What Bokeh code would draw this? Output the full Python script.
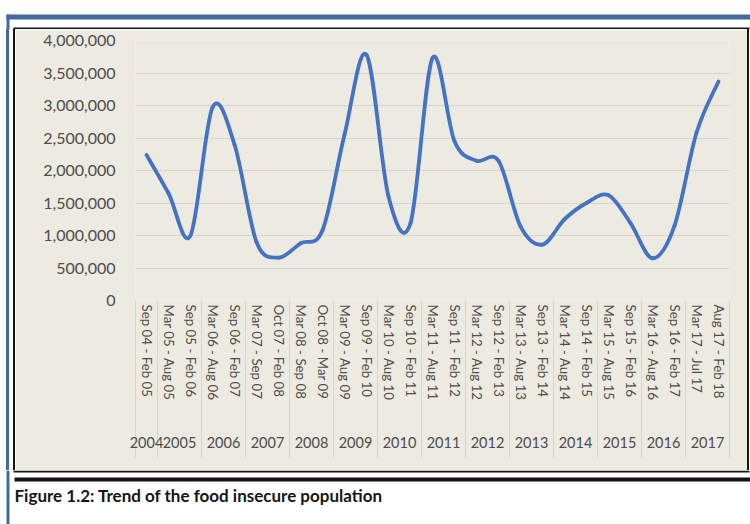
from bokeh.plotting import figure
from bokeh.layouts import column, row
from bokeh.models import (Range1d, NumeralTickFormatter, Label, ColumnDataSource,
                          FixedTicker, LinearAxis, Spacer)
from bokeh.embed import file_html
from bokeh.resources import INLINE

# ---- data ----
years = ["2004", "2005", "2005", "2006", "2006", "2007", "2007", "2008", "2008",
         "2009", "2009", "2010", "2010", "2011", "2011", "2012", "2012", "2013", "2013",
         "2014", "2014", "2015", "2015", "2016", "2016", "2017", "2017"]
periods = ["Sep 04 - Feb 05", "Mar 05 - Aug 05", "Sep 05 - Feb 06", "Mar 06 - Aug 06",
           "Sep 06 - Feb 07", "Mar 07 - Sep 07", "Oct 07 - Feb 08", "Mar 08 - Sep 08",
           "Oct 08 - Mar 09", "Mar 09 - Aug 09", "Sep 09 - Feb 10", "Mar 10 - Aug 10",
           "Sep 10 - Feb 11", "Mar 11 - Aug 11", "Sep 11 - Feb 12", "Mar 12 - Aug 12",
           "Sep 12 - Feb 13", "Mar 13 - Aug 13", "Sep 13 - Feb 14", "Mar 14 - Aug 14",
           "Sep 14 - Feb 15", "Mar 15 - Aug 15", "Sep 15 - Feb 16", "Mar 16 - Aug 16",
           "Sep 16 - Feb 17", "Mar 17 - Jul 17", "Aug 17 - Feb 18"]
food_insecure = [2240000, 1650000, 1000000, 2970000, 2400000, 900000, 660000, 880000,
                 1080000, 2550000, 3780000, 1600000, 1190000, 3730000, 2450000, 2150000,
                 2150000, 1140000, 860000, 1250000, 1500000, 1620000, 1190000, 650000,
                 1150000, 2580000, 3370000]
y_ticks = [0, 500000, 1000000, 1500000, 2000000, 2500000, 3000000, 3500000, 4000000]
caption = "Figure 1.2: Trend of the food insecure population"

FONT = "Lato"
GREY = "#4d4d4d"
BEIGE = "#ECEAE1"
BLUE_FRAME = "#44699C"
INK = "#151515"

n = len(food_insecure)
xs = [i + 0.5 for i in range(n)]            # category centres
year_names = []
year_centres = []
bounds = [0]
for i, yv in enumerate(years):
    if not year_names or year_names[-1] != yv:
        if year_names:
            bounds.append(i)
        year_names.append(yv)
        year_centres.append([])
    year_centres[-1].append(xs[i])
bounds.append(n)
year_centres = [sum(c) / len(c) for c in year_centres]

# ---------------- main chart ----------------
MW, MH = 732, 441
p = figure(width=MW, height=MH, x_range=Range1d(0, n), y_range=Range1d(0, 4000000),
           output_backend="svg", toolbar_location=None,
           min_border_left=120, min_border_right=18, min_border_top=11,
           min_border_bottom=170)
p.background_fill_color = BEIGE
p.border_fill_color = BEIGE
p.outline_line_color = None

# smoothed line (Bezier segments through the data points)
ys = food_insecure
seg = dict(x0=[], y0=[], x1=[], y1=[], cx0=[], cy0=[], cx1=[], cy1=[])
for i in range(n - 1):
    a = i - 1 if i > 0 else i
    d = i + 2 if i + 2 < n else i + 1
    seg["x0"].append(xs[i]); seg["y0"].append(ys[i])
    seg["x1"].append(xs[i + 1]); seg["y1"].append(ys[i + 1])
    seg["cx0"].append(xs[i] + (xs[i + 1] - xs[a]) / 6)
    seg["cy0"].append(ys[i] + (ys[i + 1] - ys[a]) / 6)
    seg["cx1"].append(xs[i + 1] - (xs[d] - xs[i]) / 6)
    seg["cy1"].append(ys[i + 1] - (ys[d] - ys[i]) / 6)
p.bezier(x0="x0", y0="y0", x1="x1", y1="y1", cx0="cx0", cy0="cy0", cx1="cx1",
         cy1="cy1", source=ColumnDataSource(seg), line_color="#4472C4",
         line_width=3.8, line_cap="round")

# y axis
p.yaxis.ticker = FixedTicker(ticks=y_ticks)
p.yaxis.formatter = NumeralTickFormatter(format="0,0")
p.yaxis.axis_line_color = None
p.yaxis.major_tick_line_color = None
p.yaxis.minor_tick_line_color = None
p.yaxis.major_label_standoff = 14
p.yaxis.major_label_text_font = FONT
p.yaxis.major_label_text_font_size = "16px"
p.yaxis.major_label_text_color = GREY

p.ygrid.ticker = FixedTicker(ticks=y_ticks)
p.ygrid.grid_line_color = "#D8D6CC"
p.ygrid.grid_line_width = 1.2
p.xgrid.grid_line_color = None

# x axis: period labels, minor ticks serve as the year separators
xa = p.xaxis[0]
xa.ticker = FixedTicker(ticks=xs, minor_ticks=bounds)
xa.major_label_overrides = {x: lab for x, lab in zip(xs, periods)}
xa.axis_line_color = None
xa.major_tick_line_color = None
xa.major_tick_out = 0
xa.major_tick_in = 0
xa.minor_tick_line_color = "#D8D6CD"
xa.minor_tick_in = 0
xa.minor_tick_out = 157
xa.major_label_orientation = "vertical"
xa.major_label_standoff = -153
xa.major_label_text_font = FONT
xa.major_label_text_font_size = "13.3px"
xa.major_label_text_color = GREY

# second x axis: year labels
ya = LinearAxis(ticker=FixedTicker(ticks=year_centres, minor_ticks=[]),
                major_label_overrides={c: yv for c, yv in zip(year_centres, year_names)})
ya.axis_line_color = None
ya.major_tick_line_color = None
ya.minor_tick_line_color = None
ya.major_tick_out = 0
ya.major_tick_in = 0
ya.major_label_standoff = 33
ya.major_label_text_font = FONT
ya.major_label_text_font_size = "14.5px"
ya.major_label_text_color = GREY
p.add_layout(ya, "below")

# ---------------- page decorations ----------------
def strip(w, h):
    f = figure(width=w, height=h, x_range=Range1d(0, w), y_range=Range1d(h, 0),
               output_backend="svg", toolbar_location=None, min_border=0,
               x_axis_location=None, y_axis_location=None)
    f.grid.visible = False
    f.outline_line_color = None
    f.background_fill_color = "white"
    f.border_fill_color = "white"
    return f

def bar(f, l, r, t, b, color):
    f.quad(left=[l], right=[r], top=[t], bottom=[b], fill_color=color,
           line_color=None)

def vband(w, color):
    return Spacer(width=w, height=MH, margin=0, styles={"background-color": color})

top = strip(750, 29)
bar(top, 6, 750, 14, 19, BLUE_FRAME)
bar(top, 6, 9, 14, 29, BLUE_FRAME)
bar(top, 13, 749, 27, 29, INK)

bottom = strip(750, 54)
bar(bottom, 6, 9, 0, 54, BLUE_FRAME)
bar(bottom, 13, 749, 0, 2, INK)
bar(bottom, 14, 750, 7, 11, INK)
bottom.add_layout(Label(x=14, y=25, text=caption, text_font=FONT,
                        text_font_style="bold", text_font_size="17px",
                        text_color=INK, text_baseline="middle"))

middle = row(vband(6, "white"), vband(3, BLUE_FRAME), vband(4, "white"),
             vband(2, INK), p, vband(2, INK), vband(1, "white"))
layout = column(top, middle, bottom)
open("out.html", "w").write(file_html(layout, INLINE))
